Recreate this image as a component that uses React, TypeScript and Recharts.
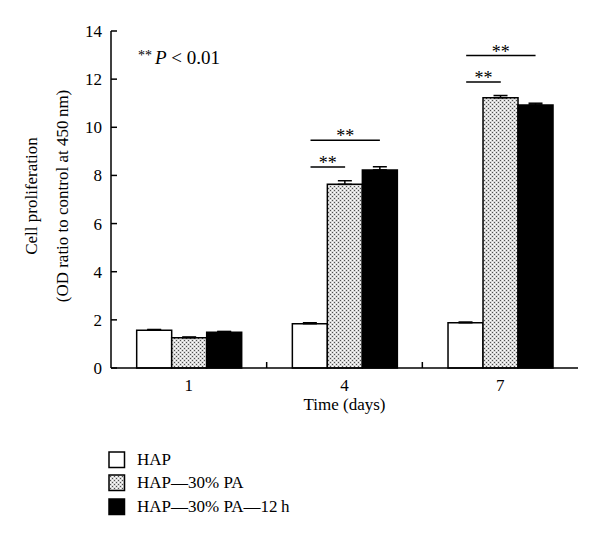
import {
  BarChart, Bar, XAxis, YAxis, ErrorBar, ReferenceLine, Legend,
} from 'recharts';

const SERIF = '"Liberation Serif", "Times New Roman", serif';

const days = ['1', '4', '7'];
const hap = [1.57, 1.84, 1.88];
const hapPa = [1.26, 7.63, 11.23];
const hapPa12 = [1.49, 8.23, 10.93];
const hapErr = [0.03, 0.04, 0.03];
const hapPaErr = [0.03, 0.15, 0.09];
const hapPa12Err = [0.03, 0.13, 0.07];
const yTicks = [0, 2, 4, 6, 8, 10, 12, 14];
const seriesNames = ['HAP', 'HAP\u201430% PA', 'HAP\u201430% PA\u201412\u2009h'];

// ** brackets: day group, from bar -> to bar, height in OD units
const brackets = [
  { group: 1, from: 0, to: 1, y: 8.35 },
  { group: 1, from: 0, to: 2, y: 9.46 },
  { group: 2, from: 0, to: 1, y: 11.88 },
  { group: 2, from: 0, to: 2, y: 12.98 },
];

const GAP = 0.165; // barCategoryGap as a fraction of the band
const barW = (1 - 2 * GAP) / 3;
const barCenter = (group: number, bar: number) => group + GAP + (bar + 0.5) * barW;

const data = days.map((d, i) => ({
  day: d,
  slot: i + 0.5, // band centre on the helper numeric axis
  hap: hap[i],
  hapPa: hapPa[i],
  hapPa12: hapPa12[i],
  hapErr: [0, hapErr[i]],
  hapPaErr: [0, hapPaErr[i]],
  hapPa12Err: [0, hapPa12Err[i]],
}));

function Stipple({ id }: { id: string }) {
  return (
    <pattern id={id} width={4} height={4} patternUnits="userSpaceOnUse">
      <rect width={4} height={4} fill="#d8d8d8" />
      <rect x={0} y={0} width={1} height={1} fill="#505050" />
      <rect x={2} y={2} width={1} height={1} fill="#505050" />
      <rect x={2} y={0} width={1} height={1} fill="#ffffff" />
      <rect x={0} y={2} width={1} height={1} fill="#ffffff" />
    </pattern>
  );
}

const swatchFill = ['#ffffff', 'url(#stippleLg)', '#000000'];

function LegendBox() {
  return (
    <div style={{ fontFamily: SERIF, fontSize: 17, color: '#000' }}>
      {seriesNames.map((n, i) => (
        <div key={n} style={{ display: 'flex', alignItems: 'center', height: 23.5 }}>
          <svg width={18} height={18} style={{ marginRight: 11 }}>
            <defs><Stipple id="stippleLg" /></defs>
            <rect x={1} y={1} width={15.5} height={15.5} fill={swatchFill[i]} stroke="#000" strokeWidth={1.5} />
          </svg>
          <span>{n}</span>
        </div>
      ))}
    </div>
  );
}

const starLabel = (props: any) => {
  const vb = props.viewBox;
  return (
    <text x={vb.x + vb.width / 2} y={vb.y + 2} textAnchor="middle" fontSize={18} fontFamily={SERIF} fill="#000">
      **
    </text>
  );
};

export default function App() {
  return (
    <div style={{ position: 'absolute', left: 0, top: 0, width: 600, height: 540, background: '#fff' }}>
      <BarChart
        width={600}
        height={540}
        data={data}
        margin={{ top: 31, right: 22, left: 0, bottom: 0 }}
        barCategoryGap="16.5%"
        barGap={0}
      >
        <defs><Stipple id="stipple" /></defs>
        <XAxis
          dataKey="day"
          height={172}
          tickLine={false}
          axisLine={{ stroke: '#000', strokeWidth: 1.5 }}
          tick={{ fill: '#000', fontSize: 17, fontFamily: SERIF }}
          tickMargin={5}
        />
        <XAxis xAxisId="band" dataKey="slot" type="number" domain={[0, 3]} allowDataOverflow hide />
        <XAxis
          xAxisId="top"
          orientation="top"
          dataKey="day"
          height={0}
          tick={false}
          tickLine={false}
          axisLine={{ stroke: '#000', strokeWidth: 1.5 }}
        />
        <YAxis
          width={111}
          domain={[0, 14]}
          ticks={yTicks}
          tickSize={-6}
          tickMargin={15}
          tick={{ fill: '#000', fontSize: 17, fontFamily: SERIF }}
          tickLine={{ stroke: '#000', strokeWidth: 1.5 }}
          axisLine={{ stroke: '#000', strokeWidth: 1.5 }}
        />
        <YAxis
          yAxisId="right"
          orientation="right"
          width={0}
          domain={[0, 14]}
          tick={false}
          tickLine={false}
          axisLine={{ stroke: '#000', strokeWidth: 1.5 }}
        />
        {[1, 2].map(b => (
          <ReferenceLine
            key={b}
            xAxisId="band"
            ifOverflow="visible"
            segment={[{ x: b, y: 0 }, { x: b, y: 0.25 }]}
            stroke="#000"
            strokeWidth={1.5}
          />
        ))}
        <Bar dataKey="hap" name={seriesNames[0]} fill="#fff" stroke="#000" strokeWidth={1.5} isAnimationActive={false}>
          <ErrorBar dataKey="hapErr" width={7} stroke="#000" strokeWidth={1.5} />
        </Bar>
        <Bar dataKey="hapPa" name={seriesNames[1]} fill="url(#stipple)" stroke="#000" strokeWidth={1.5} isAnimationActive={false}>
          <ErrorBar dataKey="hapPaErr" width={7} stroke="#000" strokeWidth={1.5} />
        </Bar>
        <Bar dataKey="hapPa12" name={seriesNames[2]} fill="#000" stroke="#000" strokeWidth={1.5} isAnimationActive={false}>
          <ErrorBar dataKey="hapPa12Err" width={7} stroke="#000" strokeWidth={1.5} />
        </Bar>
        {brackets.map((br, i) => (
          <ReferenceLine
            key={i}
            xAxisId="band"
            ifOverflow="visible"
            segment={[
              { x: barCenter(br.group, br.from) + 0.005, y: br.y },
              { x: barCenter(br.group, br.to) + 0.004, y: br.y },
            ]}
            stroke="#000"
            strokeWidth={1.5}
            label={starLabel}
          />
        ))}
        <Legend
          layout="horizontal"
          verticalAlign="middle"
          align="center"
          content={() => <LegendBox />}
          wrapperStyle={{ position: 'absolute', left: 108, top: 448, width: 'auto' }}
        />
        <text x={138} y={64} fontFamily={SERIF} fontSize={19} fill="#000">
          <tspan fontSize={14} dy={-4.5}>**</tspan>
          <tspan dy={4.5} dx={3} fontStyle="italic">P</tspan>
          <tspan> &lt; 0.01</tspan>
        </text>
        <text x={344.5} y={410} textAnchor="middle" fontFamily={SERIF} fontSize={17} fill="#000">
          Time (days)
        </text>
        <text x={37} y={196} transform="rotate(-90 37 196)" textAnchor="middle" fontFamily={SERIF} fontSize={17} fill="#000">
          Cell proliferation
        </text>
        <text x={68} y={196} transform="rotate(-90 68 196)" textAnchor="middle" fontFamily={SERIF} fontSize={17} fill="#000">
          (OD ratio to control at 450{'\u2009'}nm)
        </text>
      </BarChart>
    </div>
  );
}
